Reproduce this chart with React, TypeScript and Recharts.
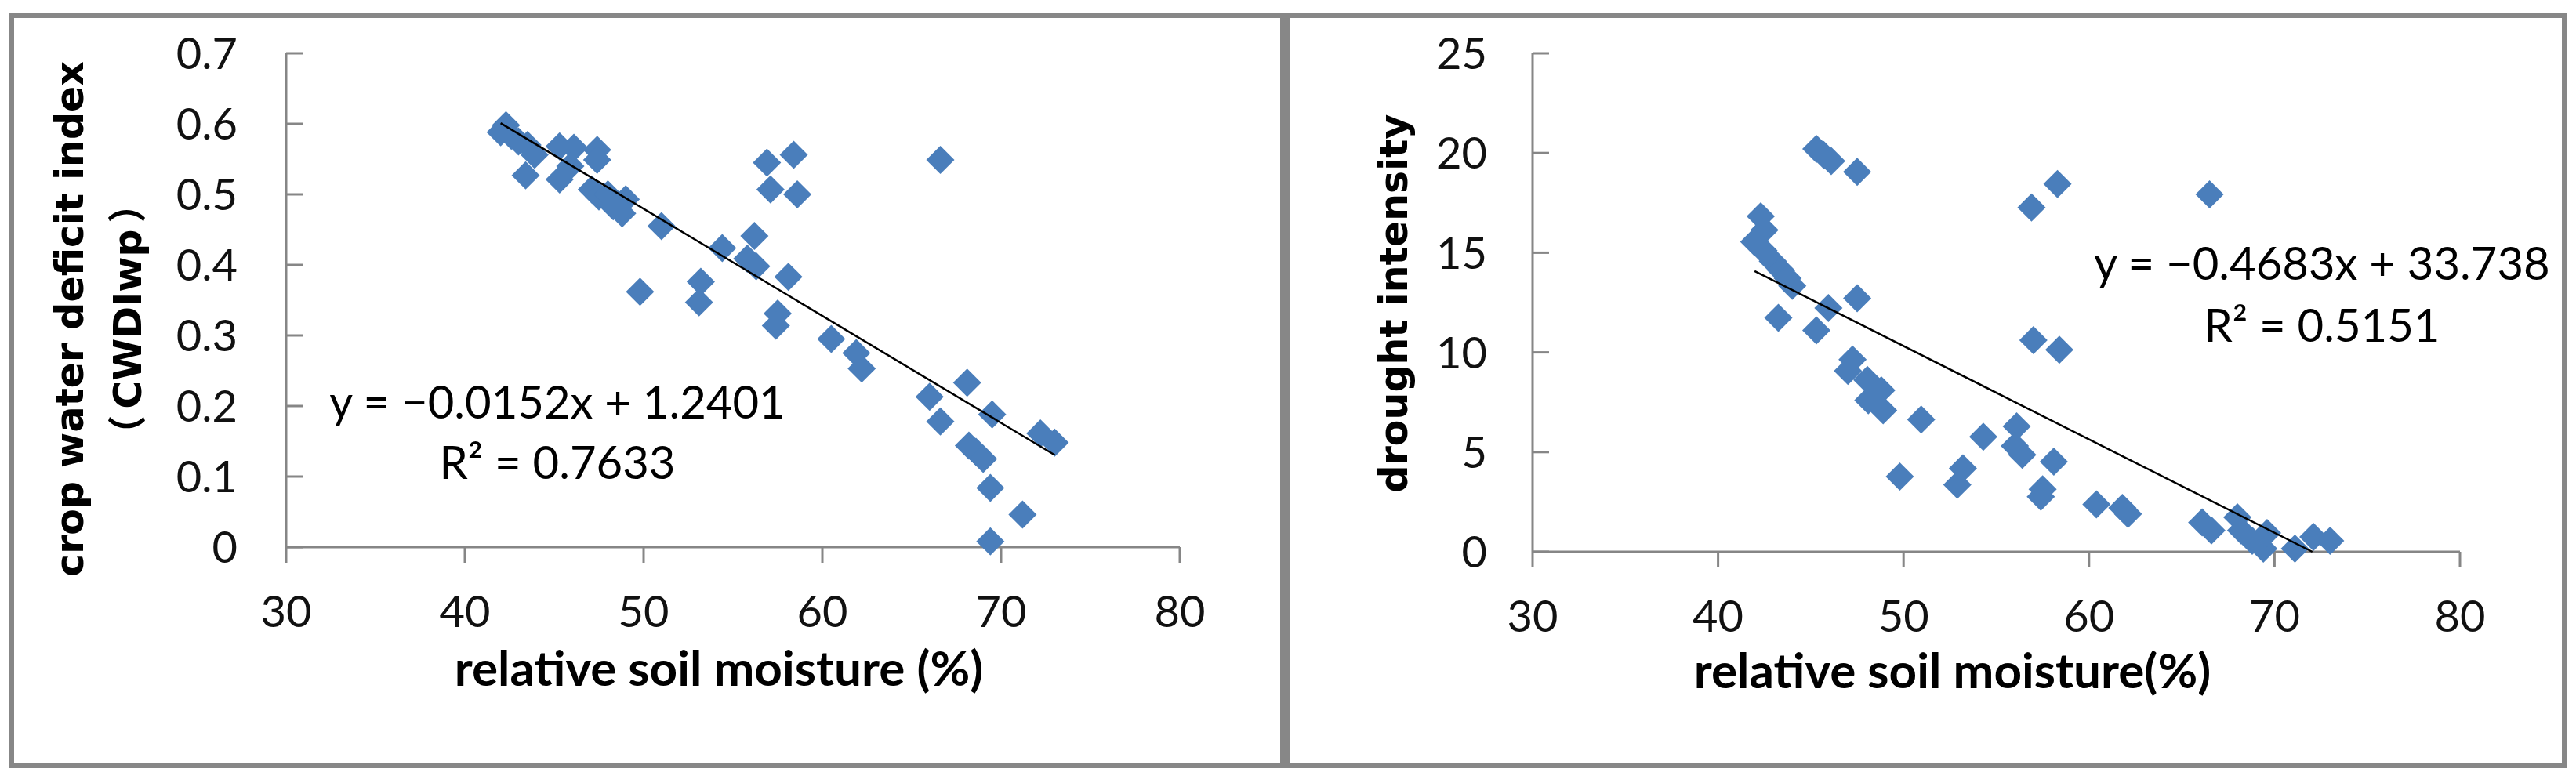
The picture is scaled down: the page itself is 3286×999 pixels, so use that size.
import React from 'react';
import { ScatterChart, Scatter, XAxis, YAxis } from 'recharts';

// left panel: relative soil moisture (%) vs CWDIwp
const cwdiMoisture = [
  42.0, 42.3, 42.6, 43.0, 43.5, 43.9, 43.4, 45.3, 46.1, 47.4,
  47.4, 45.3, 45.9, 47.1, 47.5, 48.0, 48.3, 48.8, 49.0, 51.0,
  49.8, 53.2, 53.1, 54.4, 56.2, 55.8, 56.3, 58.1, 57.5, 57.4,
  56.9, 58.4, 57.1, 58.6, 60.5, 61.9, 62.2, 66.6, 68.1, 66.0,
  66.6, 69.5, 72.2, 73.0, 68.2, 68.6, 69.0, 69.4, 71.2, 69.4,
];
const cwdiIndex = [
  0.588, 0.598, 0.583, 0.575, 0.570, 0.556, 0.527, 0.568, 0.566, 0.563,
  0.549, 0.521, 0.540, 0.507, 0.497, 0.500, 0.483, 0.473, 0.493, 0.455,
  0.362, 0.376, 0.347, 0.424, 0.441, 0.409, 0.398, 0.383, 0.331, 0.314,
  0.545, 0.556, 0.507, 0.500, 0.295, 0.275, 0.253, 0.549, 0.233, 0.213,
  0.178, 0.188, 0.161, 0.148, 0.144, 0.135, 0.125, 0.084, 0.046, 0.008,
];
const cwdiTrendX = [42.0, 73.0];
const cwdiTrendY = [0.601, 0.1305];

// right panel: relative soil moisture (%) vs drought intensity
const droughtMoisture = [
  45.3, 45.7, 46.1, 47.5, 58.3, 56.9, 66.5, 42.3, 42.5, 41.95,
  42.45, 42.95, 43.4, 43.75, 44.0, 47.5, 45.95, 43.25, 45.3, 57.0,
  58.4, 47.25, 47.0, 48.05, 48.8, 48.1, 48.9, 50.95, 54.3, 56.1,
  56.0, 56.4, 58.1, 49.8, 53.2, 52.9, 57.5, 57.4, 60.4, 61.8,
  62.1, 66.1, 66.6, 68.0, 68.2, 68.8, 69.4, 69.6, 71.1, 72.1, 73.0,
];
const droughtIntensity = [
  20.2, 19.9, 19.6, 19.05, 18.45, 17.27, 17.92, 16.82, 16.14, 15.55,
  15.1, 14.57, 14.11, 13.72, 13.34, 12.72, 12.22, 11.73, 11.1, 10.61,
  10.13, 9.64, 9.07, 8.62, 8.1, 7.6, 7.1, 6.63, 5.77, 6.29,
  5.31, 4.86, 4.52, 3.77, 4.19, 3.36, 3.13, 2.76, 2.38, 2.2,
  1.9, 1.47, 1.07, 1.73, 1.07, 0.55, 0.16, 0.94, 0.16, 0.75, 0.55,
];
const droughtTrendX = [41.97, 72.04];
const droughtTrendY = [14.08, 0];

const moistureTicks = [30, 40, 50, 60, 70, 80];
const cwdiTicks = [0, 0.1, 0.2, 0.3, 0.4, 0.5, 0.6, 0.7];
const intensityTicks = [0, 5, 10, 15, 20, 25];

const MARKER = '#4a7ebb';
const GRAY = '#868686';
const LATO = 'Lato, "Open Sans", sans-serif';
const TITLE_FONT = '"DejaVu Sans", sans-serif';
const CJK_FONT = '"Noto Sans CJK SC", sans-serif';

const toPoints = (xs: number[], ys: number[]) => xs.map((x, i) => ({ x, y: ys[i] }));

const Diamond = (props: any) => {
  const { cx, cy } = props;
  const r = 18;
  return <polygon points={`${cx},${cy - r} ${cx + r},${cy} ${cx},${cy + r} ${cx - r},${cy}`} fill={MARKER} />;
};

const NoMark = () => <g />;

const YTick = (props: any) => {
  const { x, y, payload, gap, digits } = props;
  const v = payload.value;
  const label = v === 0 ? '0' : v.toFixed(digits);
  return (
    <g>
      <line x1={x} x2={x + 21} y1={y} y2={y} stroke={GRAY} strokeWidth={3} />
      <text x={x - gap} y={y} dy="0.36em" textAnchor="end" fontFamily={LATO} fontSize={56} fill="#111">
        {label}
      </text>
    </g>
  );
};

const XTick = (props: any) => {
  const { x, y, payload, drop } = props;
  return (
    <text x={x} y={y} dy={drop} textAnchor="middle" fontFamily={LATO} fontSize={56} fill="#111">
      {payload.value}
    </text>
  );
};

const XTitle = (props: any) => {
  const { viewBox, text, dx, base } = props;
  return (
    <text
      x={viewBox.x + viewBox.width / 2 + dx}
      y={viewBox.y + base}
      textAnchor="middle"
      fontFamily={LATO}
      fontWeight="bold"
      fontSize={62}
      fill="#000"
    >
      {text}
    </text>
  );
};

// rotated y title; each line: column x (baseline), offset of its middle from the plot middle, runs of [text, font, dx]
const YTitle = (props: any) => {
  const { viewBox, lines } = props;
  const mid = viewBox.y + viewBox.height / 2;
  return (
    <g>
      {lines.map((ln: any, i: number) => (
        <g key={i} transform={`translate(${ln.x}, ${mid + ln.shift}) rotate(-90)`}>
          <text x={0} y={0} textAnchor="middle" fontFamily={TITLE_FONT} fontWeight="bold" fontSize={49} fill="#000">
            {ln.runs.map(([t, f, d]: any[], j: number) => (
              <tspan key={j} fontFamily={f} dx={d || 0}>
                {t}
              </tspan>
            ))}
          </text>
        </g>
      ))}
    </g>
  );
};

const panelStyle: React.CSSProperties = {
  position: 'absolute',
  top: 17,
  height: 963,
  border: '6px solid #878787',
  boxSizing: 'border-box',
  background: '#fff',
};

const App: React.FC = () => {
  const cwdiData = toPoints(cwdiMoisture, cwdiIndex);
  const cwdiTrend = toPoints(cwdiTrendX, cwdiTrendY);
  const droughtData = toPoints(droughtMoisture, droughtIntensity);
  const droughtTrend = toPoints(droughtTrendX, droughtTrendY);

  return (
    <div style={{ position: 'absolute', left: 0, top: 0, width: 3286, height: 999, background: '#fff' }}>
      <div style={{ ...panelStyle, left: 12, width: 1627 }}>
        <ScatterChart width={1615} height={951} margin={{ top: 45, right: 128, bottom: 0, left: 0 }}>
          <XAxis
            type="number"
            dataKey="x"
            domain={[30, 80]}
            ticks={moistureTicks}
            height={276}
            axisLine={{ stroke: GRAY, strokeWidth: 3 }}
            tickLine={{ stroke: GRAY, strokeWidth: 3 }}
            tickSize={20}
            tickMargin={0}
            tick={<XTick drop={82} />}
            label={<XTitle text="relative soil moisture (%)" dx={-18} base={177} />}
          />
          <YAxis
            type="number"
            dataKey="y"
            domain={[0, 0.7]}
            ticks={cwdiTicks}
            width={347}
            axisLine={{ stroke: GRAY, strokeWidth: 3 }}
            tickLine={false}
            tickSize={0}
            tickMargin={0}
            tick={<YTick gap={62} digits={1} />}
            label={
              <YTitle
                lines={[
                  { x: 88, shift: 24, runs: [['crop water deficit index', TITLE_FONT]] },
                  {
                    x: 162,
                    shift: 24,
                    runs: [
                      ['（', CJK_FONT],
                      ['CWDIwp', TITLE_FONT, 8],
                      ['）', CJK_FONT, 8],
                    ],
                  },
                ]}
              />
            }
          />
          <Scatter data={cwdiData} shape={<Diamond />} isAnimationActive={false} />
          <Scatter
            data={cwdiTrend}
            line={{ stroke: '#000', strokeWidth: 2.5 }}
            shape={<NoMark />}
            isAnimationActive={false}
          />
          <text x={693} y={511} textAnchor="middle" fontFamily={LATO} fontSize={58} fill="#000">
            y = −0.0152x + 1.2401
          </text>
          <text x={693} y={588} textAnchor="middle" fontFamily={LATO} fontSize={58} fill="#000">
            R² = 0.7633
          </text>
        </ScatterChart>
      </div>

      <div style={{ ...panelStyle, left: 1639, width: 1635 }}>
        <ScatterChart width={1623} height={951} margin={{ top: 45, right: 130, bottom: 0, left: 0 }}>
          <XAxis
            type="number"
            dataKey="x"
            domain={[30, 80]}
            ticks={moistureTicks}
            height={270}
            axisLine={{ stroke: GRAY, strokeWidth: 3 }}
            tickLine={{ stroke: GRAY, strokeWidth: 3 }}
            tickSize={20}
            tickMargin={0}
            tick={<XTick drop={82} />}
            label={<XTitle text="relative soil moisture(%)" dx={-56} base={174} />}
          />
          <YAxis
            type="number"
            dataKey="y"
            domain={[0, 25]}
            ticks={intensityTicks}
            width={310}
            axisLine={{ stroke: GRAY, strokeWidth: 3 }}
            tickLine={false}
            tickSize={0}
            tickMargin={0}
            tick={<YTick gap={58} digits={0} />}
            label={<YTitle lines={[{ x: 150, shift: 1, runs: [['drought intensity', TITLE_FONT]] }]} />}
          />
          <Scatter data={droughtData} shape={<Diamond />} isAnimationActive={false} />
          <Scatter
            data={droughtTrend}
            line={{ stroke: '#000', strokeWidth: 2.5 }}
            shape={<NoMark />}
            isAnimationActive={false}
          />
          <text x={1317} y={334} textAnchor="middle" fontFamily={LATO} fontSize={58} fill="#000">
            y = −0.4683x + 33.738
          </text>
          <text x={1317} y={413} textAnchor="middle" fontFamily={LATO} fontSize={58} fill="#000">
            R² = 0.5151
          </text>
        </ScatterChart>
      </div>
    </div>
  );
};

export default App;
